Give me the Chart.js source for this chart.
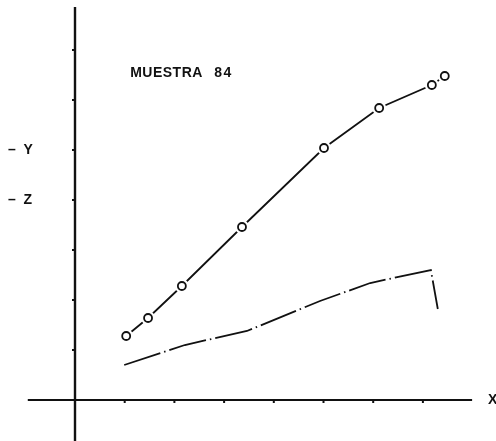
<!DOCTYPE html>
<html>
<head>
<meta charset="utf-8">
<script src="https://cdn.jsdelivr.net/npm/chart.js@4"></script>
<style>
  html, body { margin: 0; padding: 0; background: #fff; }
  #wrap { width: 496px; height: 441px; }
</style>
</head>
<body>
<div id="wrap"><canvas id="c" width="496" height="441"></canvas></div>
<script>
// Upper curve (open circles)
const upperX = [1.03, 1.47, 2.15, 3.36, 5.01, 6.12, 7.18, 7.44];
const upperY = [1.28, 1.64, 2.28, 3.46, 5.04, 5.84, 6.30, 6.48];

// Lower curve (dash-dot, no markers)
const lowerX = [0.99, 2.21, 3.46, 4.93, 5.94, 7.16, 7.30];
const lowerY = [0.70, 1.10, 1.38, 1.98, 2.34, 2.60, 1.82];

// Axis tick positions
const xTicks = [1, 2, 3, 4, 5, 6, 7];
const yTicks = [1, 2, 3, 4, 5, 6, 7];

// Level labels on the left side
const levelLabels = ['–  Y', '–  Z'];
const levelValues = [5, 4];

const titleWords = ['MUESTRA', '84'];
const xAxisName = 'X';

// Visible extent of the drawn axes (data units)
const X_AXIS_FROM = -0.95, X_AXIS_TO = 7.99;
const Y_AXIS_FROM = -0.9, Y_AXIS_TO = 7.86;

const toPts = (xs, ys) => xs.map((x, i) => ({ x, y: ys[i] }));

const INK = '#111';
const FONT = 'bold 14px "Liberation Sans", Arial, sans-serif';

const axesPlugin = {
  id: 'plotterAxes',
  beforeDatasetsDraw(chart) {
    const { ctx, scales: { x, y } } = chart;
    const x0 = x.getPixelForValue(0), y0 = y.getPixelForValue(0);
    ctx.save();
    ctx.strokeStyle = INK;
    ctx.lineCap = 'butt';
    // x axis
    ctx.lineWidth = 2;
    ctx.beginPath();
    ctx.moveTo(x.getPixelForValue(X_AXIS_FROM), y0);
    ctx.lineTo(x.getPixelForValue(X_AXIS_TO), y0);
    ctx.stroke();
    // y axis
    ctx.lineWidth = 2.4;
    ctx.beginPath();
    ctx.moveTo(x0, y.getPixelForValue(Y_AXIS_TO));
    ctx.lineTo(x0, y.getPixelForValue(Y_AXIS_FROM));
    ctx.stroke();
    // tick marks
    ctx.lineWidth = 2;
    xTicks.forEach(v => {
      const px = x.getPixelForValue(v);
      ctx.beginPath();
      ctx.moveTo(px, y0);
      ctx.lineTo(px, y0 + 3);
      ctx.stroke();
    });
    yTicks.forEach(v => {
      const py = y.getPixelForValue(v);
      ctx.beginPath();
      ctx.moveTo(x0, py);
      ctx.lineTo(x0 - 3, py);
      ctx.stroke();
    });
    ctx.restore();
  },
  afterDatasetsDraw(chart) {
    const { ctx, scales: { x, y } } = chart;
    ctx.save();
    ctx.fillStyle = INK;
    ctx.font = FONT;
    ctx.textBaseline = 'middle';
    ctx.textAlign = 'left';
    levelLabels.forEach((t, i) => {
      ctx.fillText(t, 8, y.getPixelForValue(levelValues[i]));
    });
    ctx.letterSpacing = '0.5px';
    ctx.fillText(titleWords[0], x.getPixelForValue(1.11), y.getPixelForValue(6.54));
    ctx.letterSpacing = '1.5px';
    ctx.fillText(titleWords[1], x.getPixelForValue(2.8), y.getPixelForValue(6.54));
    ctx.letterSpacing = '0px';
    ctx.fillText(xAxisName, x.getPixelForValue(8.31), y.getPixelForValue(-0.01));
    ctx.restore();
  }
};

new Chart(document.getElementById('c'), {
  type: 'scatter',
  data: {
    datasets: [
      {
        label: 'lower',
        data: toPts(lowerX, lowerY),
        showLine: true,
        borderColor: INK,
        borderWidth: 1.8,
        borderDash: [38, 4, 1.5, 4],
        pointRadius: 0,
        fill: false,
        tension: 0,
        order: 4
      },
      {
        label: 'upper',
        data: toPts(upperX, upperY),
        showLine: true,
        borderColor: INK,
        borderWidth: 1.8,
        pointRadius: 0,
        fill: false,
        tension: 0,
        order: 3
      },
      {
        // white halo that opens the line around each marker
        label: 'upper-halo',
        data: toPts(upperX, upperY),
        showLine: false,
        pointRadius: 7,
        pointBorderWidth: 0,
        pointBackgroundColor: '#fff',
        pointBorderColor: '#fff',
        order: 2
      },
      {
        label: 'upper-markers',
        data: toPts(upperX, upperY),
        showLine: false,
        pointRadius: 4,
        pointBorderWidth: 1.8,
        pointBackgroundColor: '#fff',
        pointBorderColor: INK,
        order: 1
      }
    ]
  },
  options: {
    responsive: false,
    animation: false,
    events: [],
    layout: { padding: 0, autoPadding: false },
    plugins: { legend: { display: false }, tooltip: { enabled: false }, title: { display: false } },
    scales: {
      x: { type: 'linear', min: -75 / 49.7, max: (496 - 75) / 49.7, display: false },
      y: { type: 'linear', min: -41 / 50, max: 400 / 50, display: false }
    }
  },
  plugins: [axesPlugin]
});
</script>
</body>
</html>
